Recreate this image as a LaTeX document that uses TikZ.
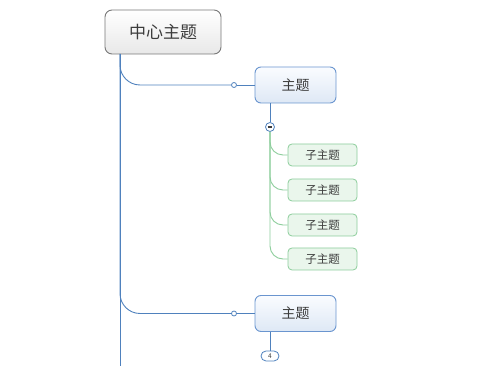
\documentclass[tikz,border=0pt]{standalone}
\usepackage{fontspec}
\setmainfont{Noto Sans CJK SC}
\usetikzlibrary{positioning}
\definecolor{lineblue}{RGB}{79,129,189}
\definecolor{topicborder}{RGB}{106,149,207}
\definecolor{topictop}{RGB}{250,252,255}
\definecolor{topicbot}{RGB}{222,232,245}
\definecolor{subborder}{RGB}{140,205,155}
\definecolor{subfill}{RGB}{234,246,236}
\definecolor{greenline}{RGB}{140,205,155}
\definecolor{centborder}{RGB}{120,120,120}
\definecolor{textgray}{RGB}{60,60,60}
\begin{document}
\begin{tikzpicture}[x=1pt,y=-1pt,
  central/.style={draw=centborder, line width=0.9pt, rounded corners=7pt, top color=white, bottom color=black!9,
    minimum width=116pt, minimum height=44pt, inner sep=0pt, text=textgray, font=\fontsize{17}{17}\selectfont},
  topic/.style={draw=topicborder, line width=0.9pt, rounded corners=6pt, top color=topictop, bottom color=topicbot,
    minimum width=81pt, minimum height=36pt, inner sep=0pt, text=textgray, font=\fontsize{14}{14}\selectfont},
  subtopic/.style={draw=subborder, line width=0.8pt, rounded corners=4pt, fill=subfill,
    minimum width=69pt, minimum height=22pt, inner sep=0pt, text=textgray, font=\fontsize{11.5}{11.5}\selectfont},
  knob/.style={circle, draw=lineblue, fill=white, line width=0.8pt, minimum size=5pt, inner sep=0pt},
  collapse/.style={circle, draw=lineblue, fill=white, line width=0.8pt, minimum size=9pt, inner sep=0pt,
    path picture={\draw[textgray, line width=1.1pt] ([xshift=-2.3pt]path picture bounding box.center) -- ([xshift=2.3pt]path picture bounding box.center);}},
  countpill/.style={draw=lineblue, fill=white, line width=0.8pt, rounded corners=5pt, minimum width=18pt, minimum height=10pt,
    inner sep=0pt, text=textgray, font=\fontsize{6.5}{6.5}\selectfont},
  blueline/.style={draw=lineblue, line width=0.9pt},
  greenl/.style={draw=greenline, line width=0.9pt}
]
\useasboundingbox (0,0) rectangle (491,366);

\node[central] (c) at (163,32) {中心主题};
\node[topic] (t1) at (295.5,85) {主题};
\node[topic] (t2) at (295.5,313.5) {主题};

\node[subtopic] (s1) at (322.5,155) {子主题};
\node[subtopic] (s2) at (322.5,190) {子主题};
\node[subtopic] (s3) at (322.5,225) {子主题};
\node[subtopic] (s4) at (322.5,259) {子主题};

\coordinate (cs) at (120,54);
\coordinate (bot) at (120,366);

\node[knob] (k1) at (234,85) {};
\node[knob] (k2) at (234,313.5) {};
\node[collapse] (m1) at (270,127) {};
\node[countpill] (n2) at (270,356) {4};

% spine
\draw[blueline] (cs) -- (bot);
% branches
\draw[blueline, rounded corners=20pt] (cs) |- (k1.west);
\draw[blueline, rounded corners=20pt] (cs) |- (k2.west);
\draw[blueline] (k1) -- (t1);
\draw[blueline] (k2) -- (t2);
\draw[blueline] (t1.south -| m1) -- (m1);
\draw[blueline] (t2.south -| n2) -- (n2);

% subtopic connectors
\foreach \s in {s1,s2,s3,s4}{
  \draw[greenl, rounded corners=13pt] (m1.south) |- (\s.west);
}
\end{tikzpicture}
\end{document}
